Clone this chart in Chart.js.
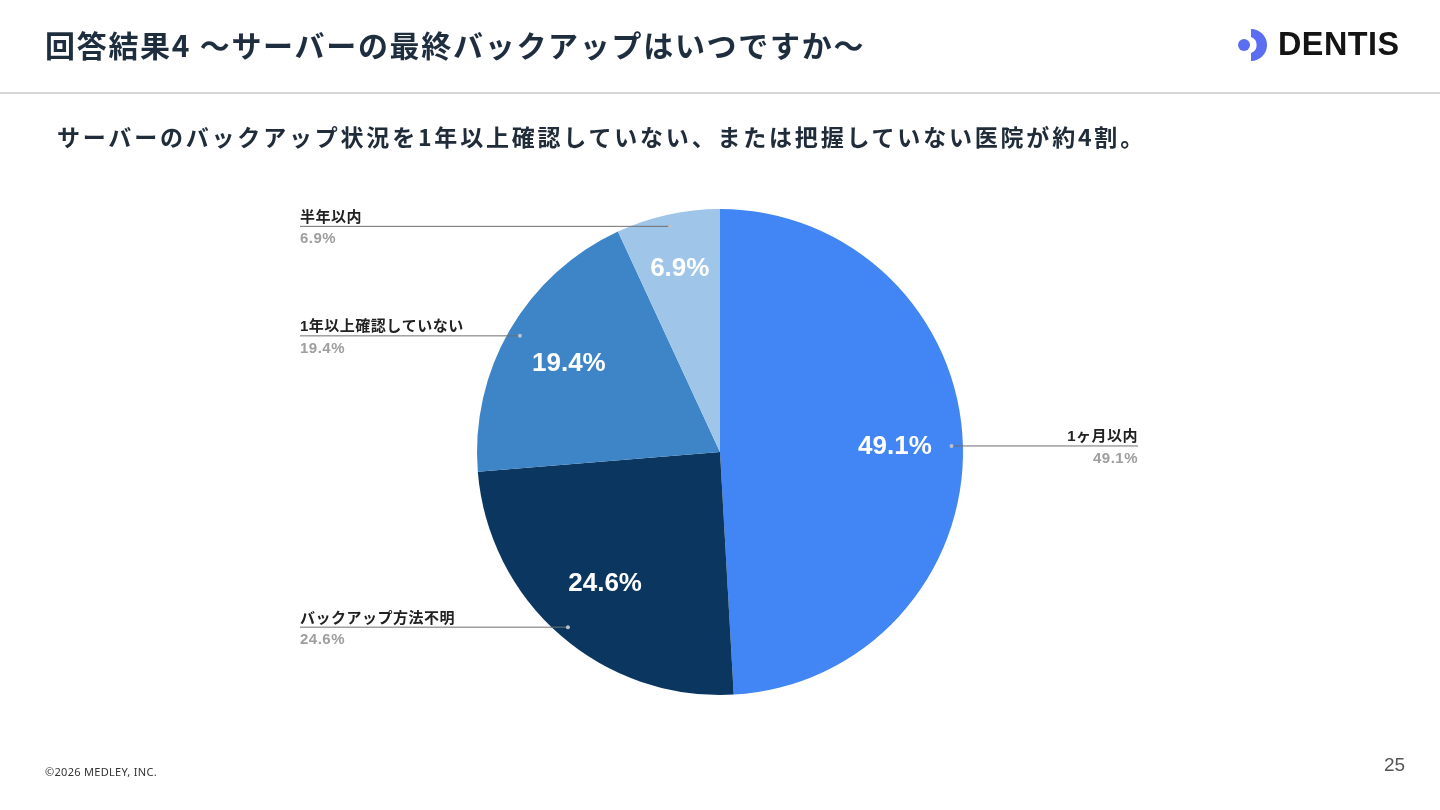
<!DOCTYPE html>
<html lang="ja">
<head>
<meta charset="utf-8">
<title>回答結果4</title>
<script src="https://cdn.jsdelivr.net/npm/chart.js@4.4.1/dist/chart.umd.min.js"></script>
<style>
    html, body { margin: 0; padding: 0; width: 1440px; height: 810px; overflow: hidden; background: #fff; }
    body { position: relative; font-family: "Noto Sans CJK JP", "Noto Sans", sans-serif; }
    #pieChart { position: absolute; left: 0; top: 0; }
    .title { position: absolute; left: 45px; top: 22px; font-size: 30px; font-weight: 700; color: #1f2e3f; letter-spacing: 1.7px; line-height: 44px; white-space: nowrap; }
    .rule { position: absolute; left: 0; top: 92px; width: 1440px; height: 2px; background: #d6d6d6; }
    .lead { position: absolute; left: 57px; top: 119px; font-size: 23px; font-weight: 700; color: #202c3a; letter-spacing: 2.8px; line-height: 34px; white-space: nowrap; }
    .logo { position: absolute; left: 1236px; top: 26px; height: 36px; display: flex; align-items: center; }
    .logo svg { display: block; }
    .logo span { font-family: "Liberation Sans", Arial, sans-serif; font-weight: 700; font-size: 33px; color: #141414; margin-left: 6px; display: inline-block; transform: scaleX(0.98); transform-origin: left center; letter-spacing: 0.5px; }
    .copy { position: absolute; left: 45px; top: 764px; font-family: "Noto Sans", "Open Sans", sans-serif; font-size: 11px; color: #333; letter-spacing: 0.3px; }
    .page { position: absolute; left: 1384px; top: 754px; font-family: "Liberation Sans", Arial, sans-serif; font-size: 19px; color: #555; }
</style>
</head>
<body>
<canvas id="pieChart" width="1440" height="810"></canvas>

<div class="title">回答結果4 ～サーバーの最終バックアップはいつですか～</div>
<div class="rule"></div>
<div class="lead">サーバーのバックアップ状況を1年以上確認していない、または把握していない医院が約4割。</div>
<div class="logo">
    <svg width="36" height="34" viewBox="0 0 36 34">
        <circle cx="8" cy="18" r="6" fill="#5b6ef2"/>
        <path d="M15 2 A16 16 0 0 1 15 34 L15 26 A8.5 8.5 0 0 0 15 10 Z" fill="#5b6ef2"/>
    </svg>
    <span>DENTIS</span>
</div>
<div class="copy">©2026 MEDLEY, INC.</div>
<div class="page">25</div>

<script>
// 回答の内訳（時計回り、12時の位置から）
const answerLabels = ['1ヶ月以内', 'バックアップ方法不明', '1年以上確認していない', '半年以内'];
const answerShares = [49.1, 24.6, 19.4, 6.9];

const SLICE_COLORS = ['#4285f4', '#0b365f', '#3d85c6', '#9fc5e8'];
const LABEL_FONT = 'bold 15px "Liberation Sans", "Noto Sans CJK JP", sans-serif';
const INNER_FONT = 'bold 26px "Liberation Sans", Arial, sans-serif';

const formatShare = function (value) {
    return value.toFixed(1) + '%';
}

// スライス内の数値と、外側の引き出し線ラベル
const sliceLabels = {
    id: 'sliceLabels',
    afterDatasetsDraw: function (chart, args, opts) {
        const ctx = chart.ctx;
        const meta = chart.getDatasetMeta(0);

        meta.data.forEach(function (arc, i) {
            const p = arc.getProps(['x', 'y', 'startAngle', 'endAngle', 'outerRadius']);
            const mid = (p.startAngle + p.endAngle) / 2;
            const cos = Math.cos(mid);
            const sin = Math.sin(mid);
            const text = formatShare(answerShares[i]);

            ctx.save();
            ctx.fillStyle = '#ffffff';
            ctx.font = INNER_FONT;
            ctx.textAlign = 'center';
            ctx.textBaseline = 'middle';
            // 細いスライスは数値を少し外寄りに置く
            const ratio = answerShares[i] < 10 ? opts.smallRatio : opts.innerRatio;
            const r = p.outerRadius * ratio;
            ctx.fillText(text, p.x + cos * r, p.y + sin * r);

            const dr = p.outerRadius * opts.dotRatio;
            const dotX = p.x + cos * dr;
            const dotY = p.y + sin * dr;
            const onRight = cos >= 0;
            const endX = onRight ? opts.rightX : opts.leftX;

            ctx.strokeStyle = '#6f6f6f';
            ctx.lineWidth = 1;
            ctx.beginPath();
            ctx.moveTo(dotX, dotY + 0.5);
            ctx.lineTo(endX, dotY + 0.5);
            ctx.stroke();

            ctx.fillStyle = '#b9c3cf';
            ctx.beginPath();
            ctx.arc(dotX, dotY + 0.5, 2, 0, Math.PI * 2);
            ctx.fill();

            ctx.font = LABEL_FONT;
            ctx.letterSpacing = '0.5px';
            ctx.textAlign = onRight ? 'right' : 'left';
            ctx.fillStyle = '#212121';
            ctx.textBaseline = 'alphabetic';
            ctx.fillText(answerLabels[i], endX, dotY - 4);
            ctx.fillStyle = '#9e9e9e';
            ctx.textBaseline = 'top';
            ctx.fillText(text, endX, dotY + 6);
            ctx.restore();
        });
    }
};

const pieChart = new Chart(document.getElementById('pieChart'), {
    type: 'pie',
    data: {
        labels: answerLabels,
        datasets: [{
            data: answerShares,
            backgroundColor: SLICE_COLORS,
            borderWidth: 0,
            hoverOffset: 0
        }]
    },
    options: {
        responsive: false,
        animation: false,
        devicePixelRatio: 1,
        layout: { padding: { top: 209, bottom: 115, left: 0, right: 0 } },
        plugins: {
            legend: { display: false },
            tooltip: { enabled: false },
            sliceLabels: { innerRatio: 0.72, smallRatio: 0.77, dotRatio: 0.953, leftX: 300, rightX: 1138 }
        }
    },
    plugins: [sliceLabels]
});
</script>
</body>
</html>
